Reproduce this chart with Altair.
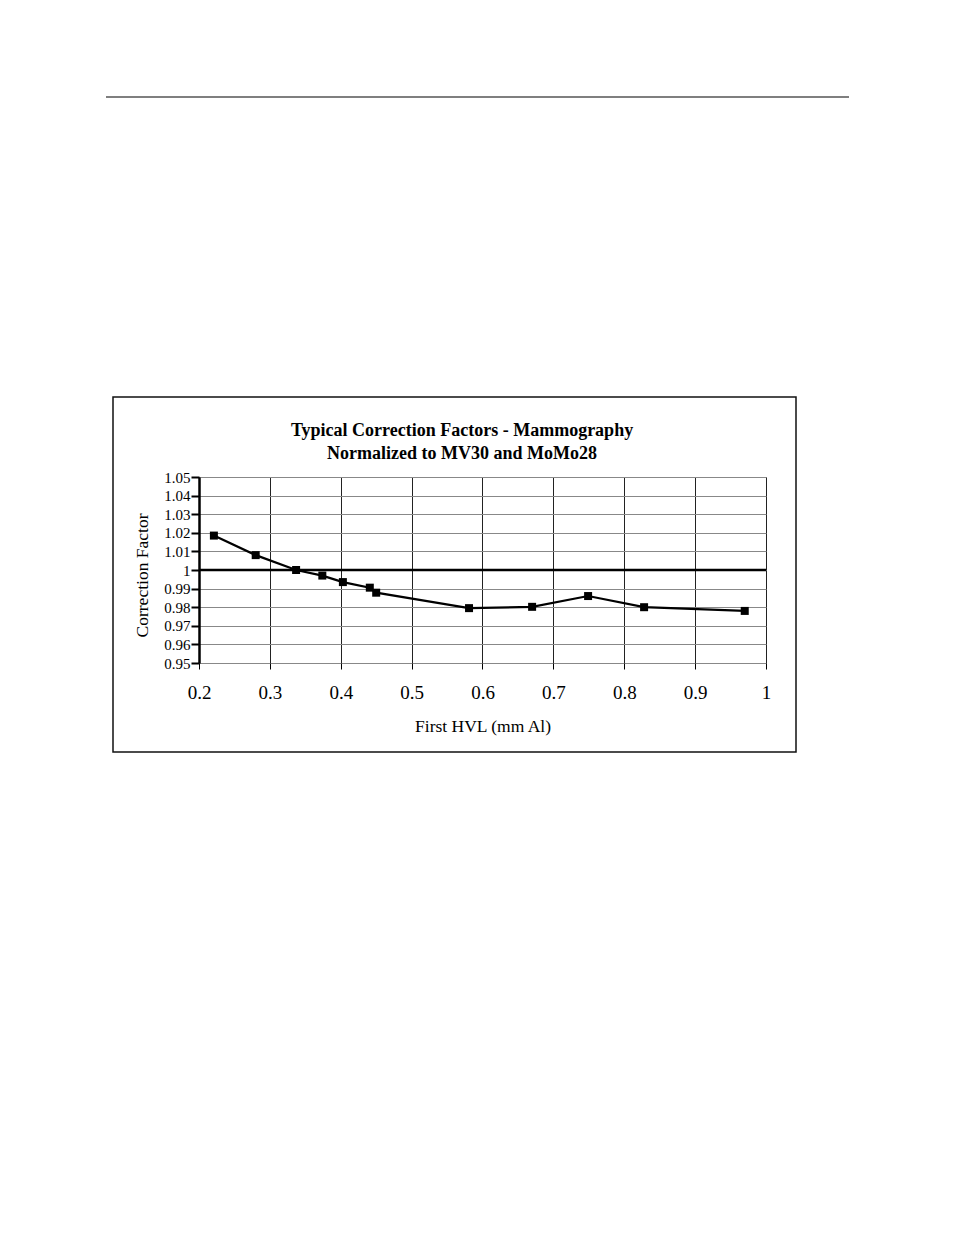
import altair as alt
import pandas as pd

# ---- data ----
hvl = [0.221, 0.280, 0.337, 0.374, 0.403, 0.441, 0.450, 0.581, 0.670, 0.749, 0.828, 0.970]
corr = [1.0185, 1.008, 1.000, 0.997, 0.9935, 0.9905, 0.9878, 0.9795, 0.9802, 0.986, 0.980, 0.978]

x_ticks = [0.2, 0.3, 0.4, 0.5, 0.6, 0.7, 0.8, 0.9, 1.0]
y_ticks = [0.95, 0.96, 0.97, 0.98, 0.99, 1.0, 1.01, 1.02, 1.03, 1.04, 1.05]
title_lines = ["Typical Correction Factors - Mammography", "Normalized to MV30 and MoMo28"]
x_title = "First HVL (mm Al)"
y_title = "Correction Factor"
ref_value = [1.0]

FONT = "Liberation Serif"
W, H = 567, 186

df = pd.DataFrame({"hvl": hvl, "corr": corr})
ref_df = pd.DataFrame({"ref": ref_value})

xscale = alt.Scale(domain=[0.2, 1.0], nice=False, zero=False)
yscale = alt.Scale(domain=[0.95, 1.05], nice=False, zero=False)

xaxis = alt.Axis(
    values=x_ticks,
    labelExpr="datum.value == 1 ? '1' : format(datum.value, '.1f')",
    title=x_title,
    labelFont=FONT, labelFontSize=19, labelColor="black", labelPadding=14,
    labelOverlap=False, labelFlush=False, labelBound=False,
    titleFont=FONT, titleFontSize=17.5, titleFontWeight="normal", titleColor="black",
    titlePadding=15,
    domain=False,
    ticks=True, tickSize=6, tickColor="black", tickWidth=1,
    grid=True, gridColor="#222", gridWidth=1,
)
yaxis = alt.Axis(
    values=y_ticks,
    labelExpr="datum.value == 1 ? '1' : format(datum.value, '.2f')",
    title=y_title,
    labelFont=FONT, labelFontSize=15, labelColor="black", labelPadding=1,
    labelOverlap=False, labelFlush=False, labelBound=False,
    titleFont=FONT, titleFontSize=17.5, titleFontWeight="normal", titleColor="black",
    titlePadding=12, titleY=98,
    domain=True, domainColor="black", domainWidth=2.5,
    ticks=True, tickSize=8, tickColor="black", tickWidth=2,
    grid=True, gridColor="#888", gridWidth=1,
)

X = alt.X("hvl:Q", scale=xscale, axis=xaxis)
Y = alt.Y("corr:Q", scale=yscale, axis=yaxis)

base = alt.Chart(df)

line = base.mark_line(color="black", strokeWidth=2.2).encode(x=X, y=Y)
points = base.mark_point(shape="square", filled=True, color="black", size=64, opacity=1).encode(x=X, y=Y)
ref_rule = alt.Chart(ref_df).mark_rule(color="black", strokeWidth=2.5).encode(
    y=alt.Y("ref:Q", scale=yscale, axis=yaxis),
)

# chart title as two centred text lines
title1 = alt.Chart(ref_df).mark_text(
    text=title_lines[0], font=FONT, fontSize=18, fontWeight="bold", color="black",
    align="center", baseline="alphabetic",
).encode(x=alt.value(263), y=alt.value(-41))
title2 = alt.Chart(ref_df).mark_text(
    text=title_lines[1], font=FONT, fontSize=18, fontWeight="bold", color="black",
    align="center", baseline="alphabetic",
).encode(x=alt.value(263), y=alt.value(-18))

# frame around the chart and rule across the top of the page
frame = alt.Chart(ref_df).mark_rect(fill=None, stroke="#111", strokeWidth=1.5).encode(
    x=alt.value(-86), x2=alt.value(597), y=alt.value(-80), y2=alt.value(275)
)
page_rule = alt.Chart(ref_df).mark_rule(color="black", strokeWidth=1.2).encode(
    x=alt.value(-93), x2=alt.value(650), y=alt.value(-380)
)

chart = alt.layer(ref_rule, line, points, page_rule, frame, title1, title2).properties(
    width=W, height=H,
    padding={"left": 191, "top": 469, "right": 150, "bottom": 300},
    autosize=alt.AutoSizeParams(type="none"),
    background="white",
).configure_view(stroke="#777", strokeWidth=1)

chart.save("out.html", embed_options={"renderer": "svg", "actions": False})
